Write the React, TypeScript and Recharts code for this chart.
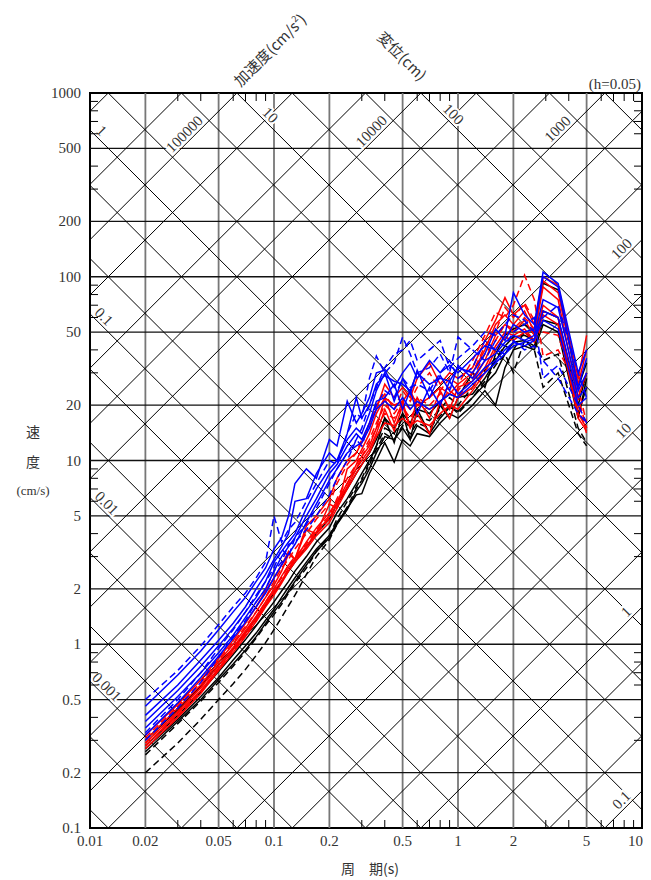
import { ComposedChart, Line, XAxis, YAxis, ReferenceLine, ReferenceArea, Scatter } from 'recharts';

// keep the page from growing a scrollbar (body margin + chart height)
if (typeof document !== 'undefined') document.documentElement.style.overflow = 'hidden';

// periods (s)
const PERIODS = [
  0.02, 0.03, 0.04, 0.05, 0.06, 0.07, 0.08, 0.09, 0.1, 0.11,
  0.12, 0.13, 0.15, 0.17, 0.2, 0.22, 0.25, 0.28, 0.3, 0.33,
  0.36, 0.4, 0.45, 0.5, 0.55, 0.6, 0.7, 0.8, 0.9, 1.0,
  1.2, 1.4, 1.6, 1.8, 2.0, 2.3, 2.6, 2.9, 3.5, 4.5,
  5.0,
];

// velocity response (cm/s)
const BLUE_1 = [0.46, 0.68, 0.92, 1.2, 1.5, 1.8, 2.2, 2.6, 3.3, 3.8, 5.0, 7.5, 9.0, 8.0, 13, 12, 21, 16, 18, 22, 30, 31, 25, 30, 34, 28, 35, 30, 33, 30, 36, 42, 40, 48, 82, 62, 55, 106, 92, 30, 40];
const BLUE_2 = [0.41, 0.6, 0.82, 1.05, 1.3, 1.6, 2.0, 2.4, 2.9, 3.4, 4.0, 6.0, 6.2, 8.5, 11, 10, 14, 22, 17, 20, 26, 29, 27, 26, 24, 30, 26, 28, 27, 32, 30, 38, 52, 45, 55, 50, 52, 100, 88, 25, 36];
const BLUE_3 = [0.38, 0.56, 0.76, 0.98, 1.22, 1.5, 1.8, 2.2, 2.8, 3.2, 3.6, 4.0, 5.5, 7.0, 9.0, 10, 13, 15, 14, 18, 24, 30, 21, 28, 23, 31, 22, 29, 24, 33, 28, 35, 38, 44, 48, 45, 48, 75, 68, 24, 30];
const BLUE_4 = [0.35, 0.52, 0.7, 0.9, 1.12, 1.4, 1.7, 2.0, 2.5, 3.0, 3.4, 3.8, 5.0, 6.2, 8.5, 9.5, 12, 14, 13, 16, 21, 22, 26, 19, 24, 18, 25, 20, 27, 23, 27, 32, 35, 40, 44, 42, 45, 65, 60, 22, 25];
const BLUE_5 = [0.32, 0.48, 0.66, 0.86, 1.08, 1.32, 1.6, 1.9, 2.3, 2.7, 3.1, 3.5, 4.6, 5.8, 7.8, 9.0, 11, 12, 12.5, 15, 19, 21, 19, 22, 19, 21, 19, 21, 23, 22, 26, 30, 34, 38, 42, 44, 46, 58, 52, 20, 22];
const BLUE_D1 = [0.5, 0.72, 0.98, 1.28, 1.6, 1.9, 2.3, 2.8, 5.0, 3.6, 4.2, 4.6, 6.0, 7.5, 10, 9.5, 14, 18, 17, 28, 37, 30, 34, 47, 38, 30, 32, 38, 30, 47, 40, 35, 45, 42, 50, 55, 60, 28, 33, 20, 16];
const BLUE_D2 = [0.33, 0.5, 0.7, 0.95, 1.2, 1.5, 1.85, 2.2, 2.6, 3.3, 3.0, 3.8, 4.5, 5.5, 7.5, 9, 11, 13, 15, 20, 25, 32, 38, 40, 45, 35, 40, 45, 32, 36, 42, 50, 48, 55, 62, 58, 50, 60, 70, 30, 22];
const BLUE_D3 = [0.3, 0.45, 0.62, 0.85, 1.1, 1.35, 1.7, 2.0, 2.5, 2.8, 3.5, 3.6, 4.2, 5.0, 6.5, 8, 10, 13, 12, 16, 20, 24, 22, 28, 25, 26, 24, 30, 35, 28, 32, 45, 40, 38, 45, 40, 42, 35, 28, 18, 16];

const RED_1 = [0.32, 0.47, 0.64, 0.84, 1.05, 1.3, 1.6, 1.95, 2.3, 2.7, 3.2, 2.9, 4.4, 5.0, 6.2, 8, 10, 11, 12.5, 16, 19, 26, 22, 25, 22, 28, 34, 26, 30, 28, 32, 45, 58, 77, 62, 70, 55, 100, 90, 28, 48];
const RED_2 = [0.3, 0.45, 0.6, 0.8, 1.0, 1.22, 1.5, 1.8, 2.1, 2.5, 3.1, 2.9, 4.2, 4.0, 5.8, 5.5, 9, 10, 11.5, 14, 18, 22, 20, 21, 24, 20, 22, 25, 23, 26, 30, 40, 55, 62, 55, 65, 50, 95, 82, 26, 40];
const RED_3 = [0.29, 0.43, 0.58, 0.77, 0.96, 1.18, 1.42, 1.7, 2.0, 2.35, 2.7, 2.9, 3.6, 4.3, 5.2, 6.0, 7.5, 9.5, 10.5, 12, 15, 22, 16, 21, 15, 22, 17, 24, 19, 25, 27, 35, 48, 55, 50, 58, 48, 88, 75, 22, 30];
const RED_4 = [0.28, 0.42, 0.56, 0.74, 0.93, 1.14, 1.38, 1.65, 1.95, 2.2, 2.6, 2.9, 3.4, 4.1, 4.9, 5.8, 7.2, 9, 10, 11.5, 14, 19, 14.5, 20, 15, 18, 14, 21, 17, 22, 25, 32, 42, 50, 48, 52, 45, 70, 60, 18, 15];
const RED_5 = [0.27, 0.4, 0.54, 0.72, 0.9, 1.1, 1.33, 1.6, 1.85, 2.15, 2.5, 2.8, 3.3, 3.9, 4.6, 5.5, 7, 8.5, 9.5, 11, 13.5, 16, 15.5, 17, 15.5, 16.5, 15.5, 18, 20, 19, 24, 30, 40, 47, 45, 50, 44, 62, 55, 17, 14.5];
const RED_D1 = [0.31, 0.46, 0.62, 0.82, 1.02, 1.25, 1.5, 1.8, 2.2, 2.6, 2.9, 3.3, 4.0, 4.8, 5.8, 7.5, 9.5, 11, 13, 15, 20, 23, 19, 24, 21, 25, 30, 24, 28, 26, 35, 48, 64, 60, 70, 102, 75, 37, 40, 25, 16];
const RED_D2 = [0.29, 0.43, 0.58, 0.76, 0.95, 1.17, 1.4, 1.7, 2.0, 2.3, 2.7, 3.0, 3.5, 4.2, 5.0, 6.2, 8, 9.5, 11, 13, 16, 20, 18, 21, 19, 22, 20, 23, 25, 24, 30, 42, 50, 68, 60, 72, 58, 50, 48, 22, 15];
const RED_D3 = [0.28, 0.41, 0.55, 0.73, 0.92, 1.12, 1.35, 1.62, 1.9, 2.2, 2.55, 2.85, 3.4, 4.0, 4.8, 5.8, 7.5, 9, 10.5, 12.5, 15, 18, 17, 19.5, 17, 20, 19, 21, 24, 22, 28, 38, 45, 55, 52, 60, 52, 65, 60, 20, 14];

const BLACK_1 = [0.3, 0.44, 0.59, 0.77, 0.95, 1.15, 1.38, 1.63, 1.9, 2.2, 2.5, 2.8, 3.4, 4.0, 4.8, 5.8, 7, 8.5, 9.5, 11, 13, 17, 15, 18, 16, 19, 18, 21, 23, 22, 30, 25, 38, 48, 52, 55, 50, 92, 85, 25, 34];
const BLACK_2 = [0.28, 0.41, 0.55, 0.71, 0.88, 1.06, 1.26, 1.48, 1.7, 1.95, 2.2, 2.5, 3.0, 3.6, 4.3, 5.2, 6.2, 7.5, 8.5, 10, 12, 17, 12.5, 18, 13, 19, 14, 20, 17, 22, 23, 28, 35, 42, 47, 48, 45, 65, 60, 20, 30];
const BLACK_3 = [0.27, 0.39, 0.52, 0.66, 0.82, 0.98, 1.15, 1.35, 1.55, 1.8, 2.05, 2.3, 2.8, 3.3, 3.9, 4.6, 5.5, 6.5, 6.6, 8.5, 10, 12.5, 9.8, 13, 12, 14, 13.5, 16, 18, 17, 20, 24, 20, 32, 40, 42, 40, 55, 50, 17, 28];
const BLACK_4 = [0.26, 0.38, 0.5, 0.64, 0.78, 0.93, 1.1, 1.3, 1.5, 1.7, 1.95, 2.2, 2.7, 3.2, 3.8, 4.5, 5.4, 6.8, 7.5, 9, 11, 13.5, 13, 15, 13, 15.5, 14, 17, 19.5, 18.5, 22, 26, 30, 38, 44, 45, 42, 58, 55, 18, 25];
const BLACK_D1 = [0.2, 0.29, 0.39, 0.5, 0.61, 0.73, 0.87, 1.02, 1.2, 1.4, 1.62, 1.85, 2.4, 3.0, 3.7, 4.5, 5.6, 7, 7.8, 9.5, 11.5, 14, 13, 15.5, 14, 16, 15, 17.5, 20, 18, 22, 27, 33, 38, 30, 45, 40, 25, 30, 14, 12];
const BLACK_D2 = [0.25, 0.37, 0.49, 0.62, 0.76, 0.91, 1.08, 1.27, 1.45, 1.65, 1.9, 2.15, 2.6, 3.2, 3.9, 4.8, 6, 7.2, 8, 9.8, 12, 15, 14, 17, 15, 17.5, 16.5, 19, 22, 20, 25, 31, 36, 42, 40, 50, 45, 35, 38, 15, 12.5];

const X_TICKS = [0.01, 0.02, 0.03, 0.04, 0.05, 0.06, 0.07, 0.08, 0.09, 0.1, 0.2, 0.3, 0.4, 0.5, 0.6, 0.7, 0.8, 0.9, 1, 2, 3, 4, 5, 6, 7, 8, 9, 10];
const Y_TICKS = [0.1, 0.2, 0.3, 0.4, 0.5, 0.6, 0.7, 0.8, 0.9, 1, 2, 3, 4, 5, 6, 7, 8, 9, 10, 20, 30, 40, 50, 60, 70, 80, 90, 100, 200, 300, 400, 500, 600, 700, 800, 900, 1000];
const X_GRID = [0.02, 0.05, 0.1, 0.2, 0.5, 1, 2, 5];
const Y_GRID = [0.2, 0.5, 1, 2, 5, 10, 20, 50, 100, 200, 500];

// tripartite lines: displacement (cm) and acceleration (cm/s^2)
const DISP_LINES = [0.0002, 0.0005, 0.001, 0.002, 0.005, 0.01, 0.02, 0.05, 0.1, 0.2, 0.5, 1, 2, 5, 10, 20, 50, 100, 200, 500, 1000];
const ACC_LINES = [0.1, 0.2, 0.5, 1, 2, 5, 10, 20, 50, 100, 200, 500, 1000, 2000, 5000, 10000, 20000, 50000, 100000, 200000, 500000];
const DISP_LABELS = [
  { d: 1, t: 0.0108 }, { d: 10, t: 0.089 }, { d: 100, t: 0.88 },
  { d: 0.1, t: 0.0111 }, { d: 0.01, t: 0.0115 }, { d: 0.001, t: 0.0115 },
];
const ACC_LABELS = [
  { a: 100000, t: 0.035 }, { a: 10000, t: 0.363 }, { a: 1000, t: 3.73 },
  { a: 100, t: 8.3 }, { a: 10, t: 8.5 }, { a: 1, t: 8.8 }, { a: 0.1, t: 8.3 },
];

const SERIES = [
  { key: 'k1', values: BLACK_1, color: '#000000', dashed: false },
  { key: 'k2', values: BLACK_2, color: '#000000', dashed: false },
  { key: 'k3', values: BLACK_3, color: '#000000', dashed: false },
  { key: 'k4', values: BLACK_4, color: '#000000', dashed: false },
  { key: 'kd1', values: BLACK_D1, color: '#000000', dashed: true },
  { key: 'kd2', values: BLACK_D2, color: '#000000', dashed: true },
  { key: 'r1', values: RED_1, color: '#ff0000', dashed: false },
  { key: 'r2', values: RED_2, color: '#ff0000', dashed: false },
  { key: 'r3', values: RED_3, color: '#ff0000', dashed: false },
  { key: 'r4', values: RED_4, color: '#ff0000', dashed: false },
  { key: 'r5', values: RED_5, color: '#ff0000', dashed: false },
  { key: 'rd1', values: RED_D1, color: '#ff0000', dashed: true },
  { key: 'rd2', values: RED_D2, color: '#ff0000', dashed: true },
  { key: 'rd3', values: RED_D3, color: '#ff0000', dashed: true },
  { key: 'b1', values: BLUE_1, color: '#0000ff', dashed: false },
  { key: 'b2', values: BLUE_2, color: '#0000ff', dashed: false },
  { key: 'b3', values: BLUE_3, color: '#0000ff', dashed: false },
  { key: 'b4', values: BLUE_4, color: '#0000ff', dashed: false },
  { key: 'b5', values: BLUE_5, color: '#0000ff', dashed: false },
  { key: 'bd1', values: BLUE_D1, color: '#0000ff', dashed: true },
  { key: 'bd2', values: BLUE_D2, color: '#0000ff', dashed: true },
  { key: 'bd3', values: BLUE_D3, color: '#0000ff', dashed: true },
];

const TWO_PI = 2 * Math.PI;
const T_MIN = 0.01, T_MAX = 10, V_MIN = 0.1, V_MAX = 1000;

const rows = PERIODS.map((t, i) => {
  const row: Record<string, number> = { t };
  SERIES.forEach((s) => { row[s.key] = s.values[i]; });
  return row;
});

const dispSegments = DISP_LINES.map((d) => {
  const t1 = Math.max(T_MIN, (TWO_PI * d) / V_MAX);
  const t2 = Math.min(T_MAX, (TWO_PI * d) / V_MIN);
  return [{ x: t1, y: (TWO_PI * d) / t1 }, { x: t2, y: (TWO_PI * d) / t2 }];
});
const accSegments = ACC_LINES.map((a) => {
  const t1 = Math.max(T_MIN, (TWO_PI * V_MIN) / a);
  const t2 = Math.min(T_MAX, (TWO_PI * V_MAX) / a);
  return [{ x: t1, y: (a * t1) / TWO_PI }, { x: t2, y: (a * t2) / TWO_PI }];
});

const labelRows = [
  ...DISP_LABELS.map((l) => ({ t: l.t, v: (TWO_PI * l.d) / l.t, text: String(l.d), angle: 45 })),
  ...ACC_LABELS.map((l) => ({ t: l.t, v: (l.a * l.t) / TWO_PI, text: String(l.a), angle: -45 })),
];

const SERIF = '"Liberation Serif", "DejaVu Serif", serif';
const CJK = '"Noto Sans CJK JP", sans-serif';

const isMajor = (v: number) => {
  const m = v / Math.pow(10, Math.floor(Math.log10(v) + 1e-9));
  const r = Math.round(m * 1000) / 1000;
  return r === 1 || r === 2 || r === 5;
};

const BottomTick = (p: any) => {
  const { x, y, payload } = p;
  if (isMajor(payload.value)) {
    // last label kept inside the page edge
    const last = payload.value === T_MAX;
    return (
      <text x={last ? x + 1 : x} y={y + 18} textAnchor={last ? 'end' : 'middle'} fontSize={15} fontFamily={SERIF} fill="#333">
        {String(payload.value)}
      </text>
    );
  }
  return <line x1={x} y1={y} x2={x} y2={y - 8} stroke="#000" strokeWidth={1} />;
};
const TopTick = (p: any) => {
  const { x, y, payload } = p;
  if (isMajor(payload.value)) return <g />;
  return <line x1={x} y1={y} x2={x} y2={y + 8} stroke="#000" strokeWidth={1} />;
};
const LeftTick = (p: any) => {
  const { x, y, payload } = p;
  if (isMajor(payload.value)) {
    return <text x={x - 9} y={y + 5} textAnchor="end" fontSize={15} fontFamily={SERIF} fill="#333">{String(payload.value)}</text>;
  }
  return <line x1={x} y1={y} x2={x + 8} y2={y} stroke="#000" strokeWidth={1} />;
};
const RightTick = (p: any) => {
  const { x, y, payload } = p;
  if (isMajor(payload.value)) return <g />;
  return <line x1={x} y1={y} x2={x - 8} y2={y} stroke="#000" strokeWidth={1} />;
};

const renderDiagLabel = (p: any) => {
  const { cx, cy, payload } = p;
  return (
    <g transform={`translate(${cx},${cy}) rotate(${payload.angle})`}>
      <text x={0} y={-3} textAnchor="middle" fontSize={15} fontFamily={SERIF} fill="#333" stroke="#fff" strokeWidth={4} paintOrder="stroke">
        {payload.text}
      </text>
    </g>
  );
};

export default function App() {
  return (
    <div style={{ position: 'relative', width: 643, height: 872 }}>
      <ComposedChart width={643} height={872} data={rows} margin={{ top: 84, right: 8, bottom: 0, left: 0 }}>
        <XAxis xAxisId="b" dataKey="t" type="number" scale="log" domain={[T_MIN, T_MAX]} allowDataOverflow ticks={X_TICKS} interval={0}
          height={52} tickSize={0} tickMargin={0} axisLine={false} tickLine={false} tick={BottomTick} />
        <XAxis xAxisId="t" orientation="top" dataKey="t" type="number" scale="log" domain={[T_MIN, T_MAX]} allowDataOverflow ticks={X_TICKS} interval={0}
          height={1} tickSize={0} tickMargin={0} axisLine={false} tickLine={false} tick={TopTick} />
        <YAxis yAxisId="l" type="number" scale="log" domain={[V_MIN, V_MAX]} allowDataOverflow ticks={Y_TICKS} interval={0}
          width={82} tickSize={0} tickMargin={0} axisLine={false} tickLine={false} tick={LeftTick} />
        <YAxis yAxisId="r" orientation="right" type="number" scale="log" domain={[V_MIN, V_MAX]} allowDataOverflow ticks={Y_TICKS} interval={0}
          width={1} tickSize={0} tickMargin={0} axisLine={false} tickLine={false} tick={RightTick} />

        {X_GRID.map((x) => (
          <ReferenceLine key={`vx${x}`} xAxisId="b" yAxisId="l" x={x} stroke="#777" strokeWidth={1.8} />
        ))}
        {Y_GRID.map((y) => (
          <ReferenceLine key={`hy${y}`} xAxisId="b" yAxisId="l" y={y} stroke="#111" strokeWidth={1.3} />
        ))}
        {dispSegments.map((seg, i) => (
          <ReferenceLine key={`d${i}`} xAxisId="b" yAxisId="l" segment={seg} ifOverflow="hidden" stroke="#000" strokeWidth={1} />
        ))}
        {accSegments.map((seg, i) => (
          <ReferenceLine key={`a${i}`} xAxisId="b" yAxisId="l" segment={seg} ifOverflow="hidden" stroke="#000" strokeWidth={1} />
        ))}
        <ReferenceArea xAxisId="b" yAxisId="l" x1={T_MIN} x2={T_MAX} y1={V_MIN} y2={V_MAX} fill="none" stroke="#000" strokeWidth={2} ifOverflow="visible" />

        <Scatter xAxisId="b" yAxisId="l" data={labelRows} dataKey="v" shape={renderDiagLabel} isAnimationActive={false} />

        {SERIES.map((s) => (
          <Line key={s.key} xAxisId="b" yAxisId="l" dataKey={s.key} type="linear" dot={false} stroke={s.color}
            strokeWidth={1.5} strokeDasharray={s.dashed ? '7 4' : undefined} isAnimationActive={false} />
        ))}
      </ComposedChart>

      <svg width={643} height={872} style={{ position: 'absolute', left: 0, top: 0, pointerEvents: 'none' }}>
        <text transform="translate(266,46) rotate(-45)" textAnchor="middle" fontSize={15} fontFamily={CJK} fill="#333">
          加速度(cm/s<tspan fontSize={9} dy={-7}>2</tspan><tspan dy={7}>)</tspan>
        </text>
        <text transform="translate(390,52) rotate(45)" textAnchor="middle" fontSize={15} fontFamily={CJK} fill="#333">
          変位(cm)
        </text>
        <text x={633} y={81} textAnchor="end" fontSize={15} fontFamily={SERIF} fill="#333">(h=0.05)</text>
        <text x={25} y={429} textAnchor="middle" fontSize={14} fontFamily={CJK} fill="#333">速</text>
        <text x={25} y={459} textAnchor="middle" fontSize={14} fontFamily={CJK} fill="#333">度</text>
        <text x={25} y={487} textAnchor="middle" fontSize={13} fontFamily={SERIF} fill="#333">(cm/s)</text>
        <text x={362} y={866} textAnchor="middle" fontSize={14} fontFamily={CJK} fill="#333">周　期(s)</text>
      </svg>
    </div>
  );
}
